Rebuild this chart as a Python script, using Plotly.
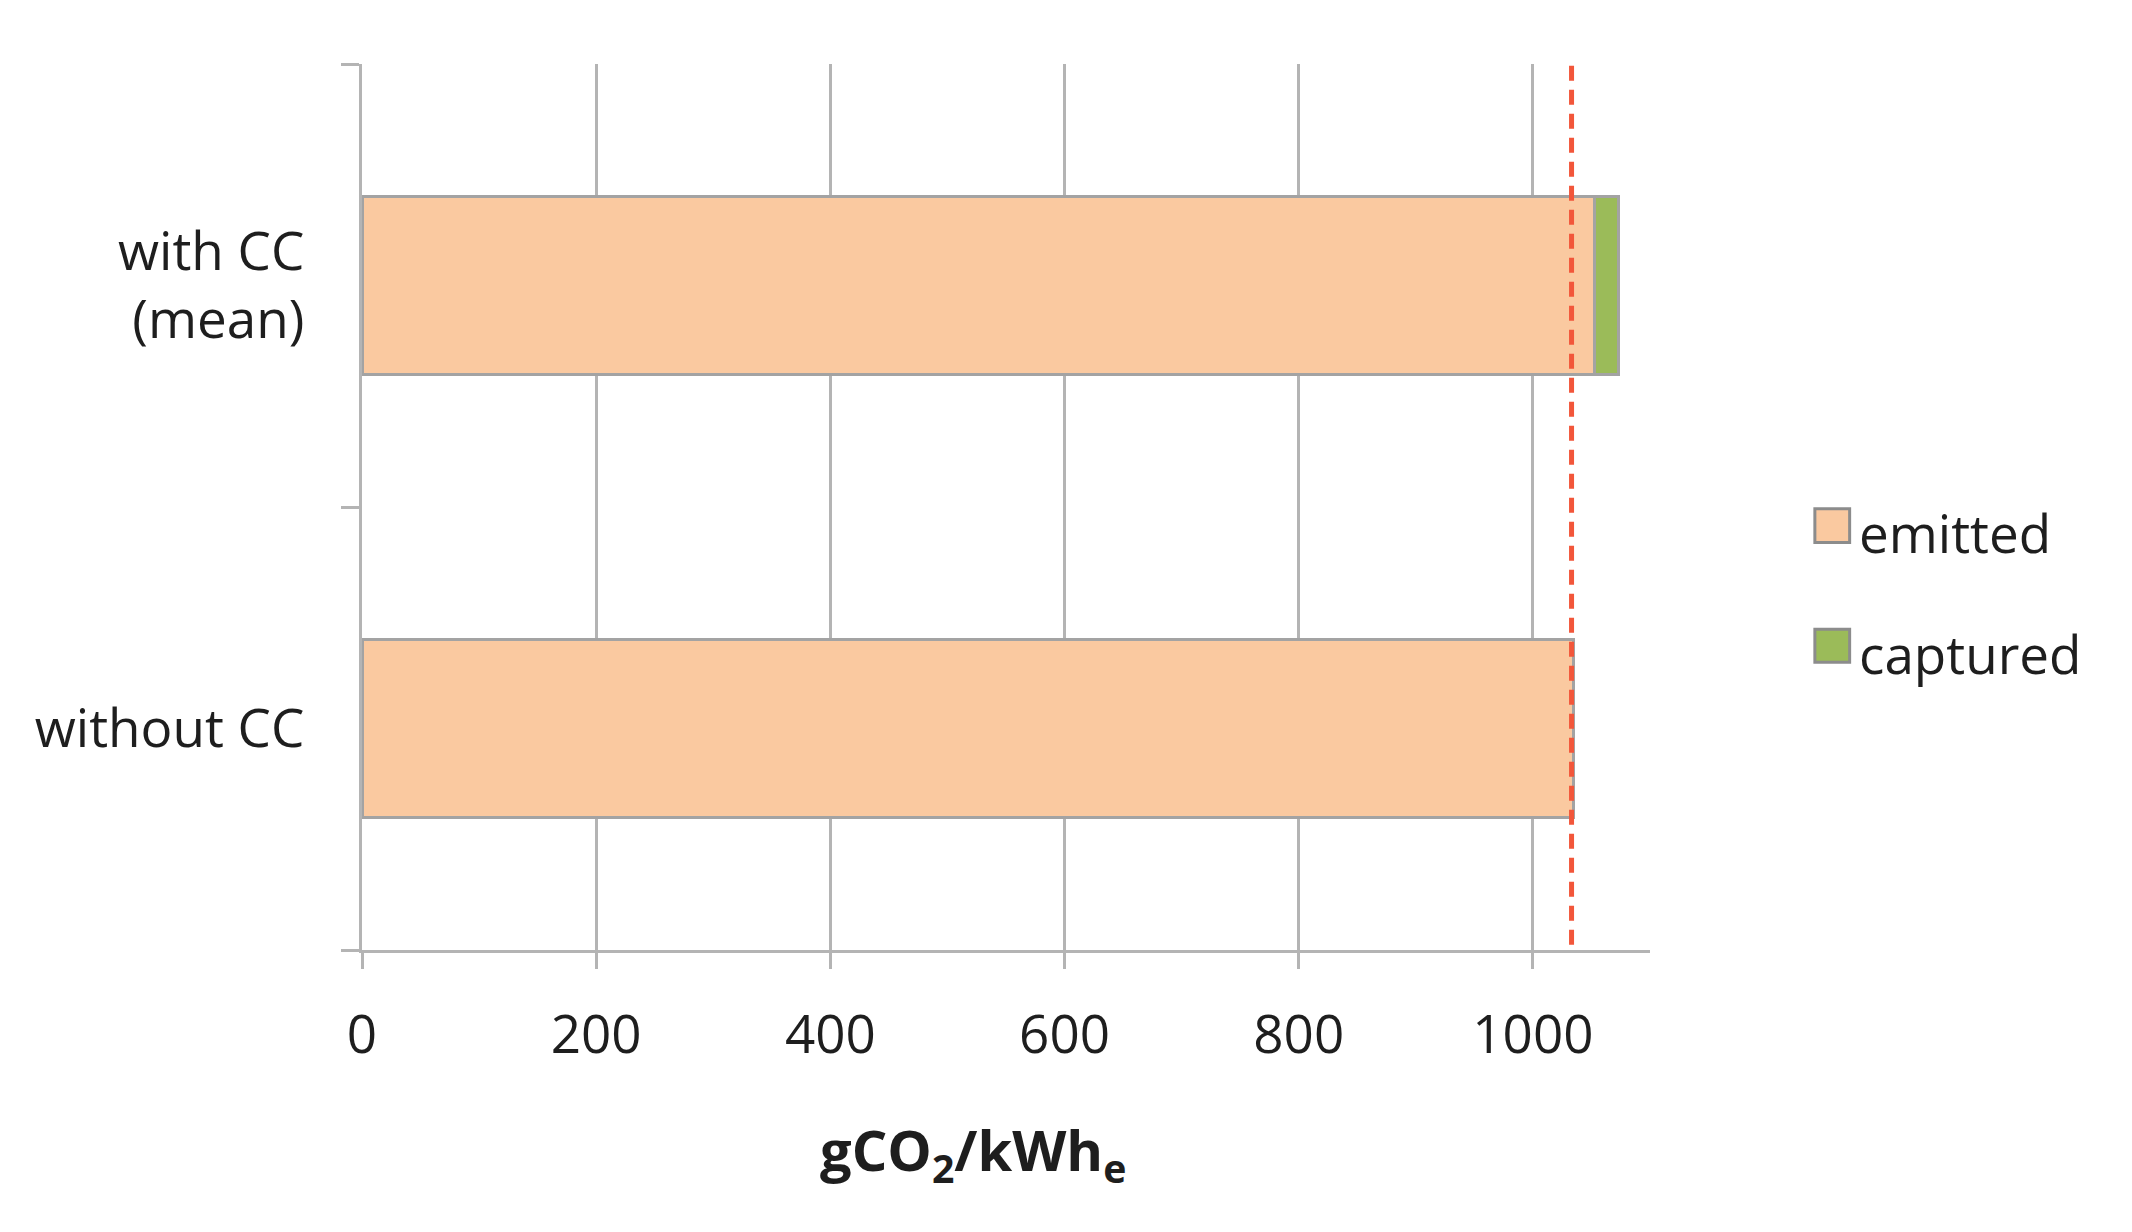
import plotly.graph_objects as go

# ---- data ----
categories = ["without CC", "with CC<br>(mean)"]
emitted = [1035, 1053]
captured = [None, 20]
reference_value = 1033
x_ticks = [0, 200, 400, 600, 800, 1000]
series_names = ["emitted", "captured"]
series_colors = ["#FAC9A0", "#9BBB59"]

FONT = "Open Sans"
TXT = "#1e1e1e"
GRID = "#B4B4B4"
OUTLINE = "#A3A3A3"

fig = go.Figure()
for name, vals, col in zip(series_names, [emitted, captured], series_colors):
    fig.add_trace(go.Bar(
        y=categories, x=vals, name=name, orientation="h",
        marker=dict(color=col, line=dict(color=OUTLINE, width=3)),
        showlegend=False,
    ))

# reference dashed line
fig.add_shape(type="line", xref="x", yref="paper",
              x0=reference_value, x1=reference_value, y0=0.006, y1=1.0,
              line=dict(color="#F2563A", width=5, dash="15px,9px"))

# custom legend (large squares)
leg_y = [(0.460, 0.498, 0.471), (0.3247, 0.3619, 0.335)]
for (y0, y1, yt), name, col in zip(leg_y, series_names, series_colors):
    fig.add_shape(type="rect", xref="paper", yref="paper",
                  x0=1.128, x1=1.155, y0=y0, y1=y1,
                  fillcolor=col, line=dict(color="#8C8C8C", width=3))
    fig.add_annotation(xref="paper", yref="paper", x=1.161, y=yt,
                       xanchor="left", yanchor="middle", showarrow=False,
                       text=name, font=dict(family=FONT, size=53, color=TXT))

# axis title
fig.add_annotation(xref="paper", yref="paper", x=0.474, y=-0.229,
                   xanchor="center", yanchor="middle", showarrow=False,
                   text="<b>gCO<sub>2</sub>/kWh<sub>e</sub></b>",
                   font=dict(family=FONT, size=56, color=TXT))

fig.update_layout(
    width=2124, height=1224,
    margin=dict(l=354, r=482, t=56, b=282),
    paper_bgcolor="white", plot_bgcolor="white",
    barmode="stack", bargap=0.6,
    font=dict(family=FONT, size=53, color=TXT),
)
fig.update_xaxes(
    range=[0, 1100], tickvals=x_ticks, ticktext=[str(v) for v in x_ticks],
    showgrid=True, gridcolor=GRID, gridwidth=3,
    showline=True, linecolor=GRID, linewidth=3,
    ticks="outside", ticklen=16, tickwidth=3, tickcolor=GRID,
    ticklabelstandoff=20, zeroline=False,
    tickfont=dict(family=FONT, size=53, color=TXT),
)
fig.update_yaxes(
    type="category", categoryorder="array", categoryarray=categories,
    range=[-0.5, 1.5], tickson="boundaries",
    showgrid=False, showline=True, linecolor=GRID, linewidth=3,
    ticks="outside", ticklen=18, tickwidth=3, tickcolor=GRID,
    ticklabelstandoff=44,
    tickfont=dict(family=FONT, size=53, color=TXT),
)

fig.write_html("out.html")
